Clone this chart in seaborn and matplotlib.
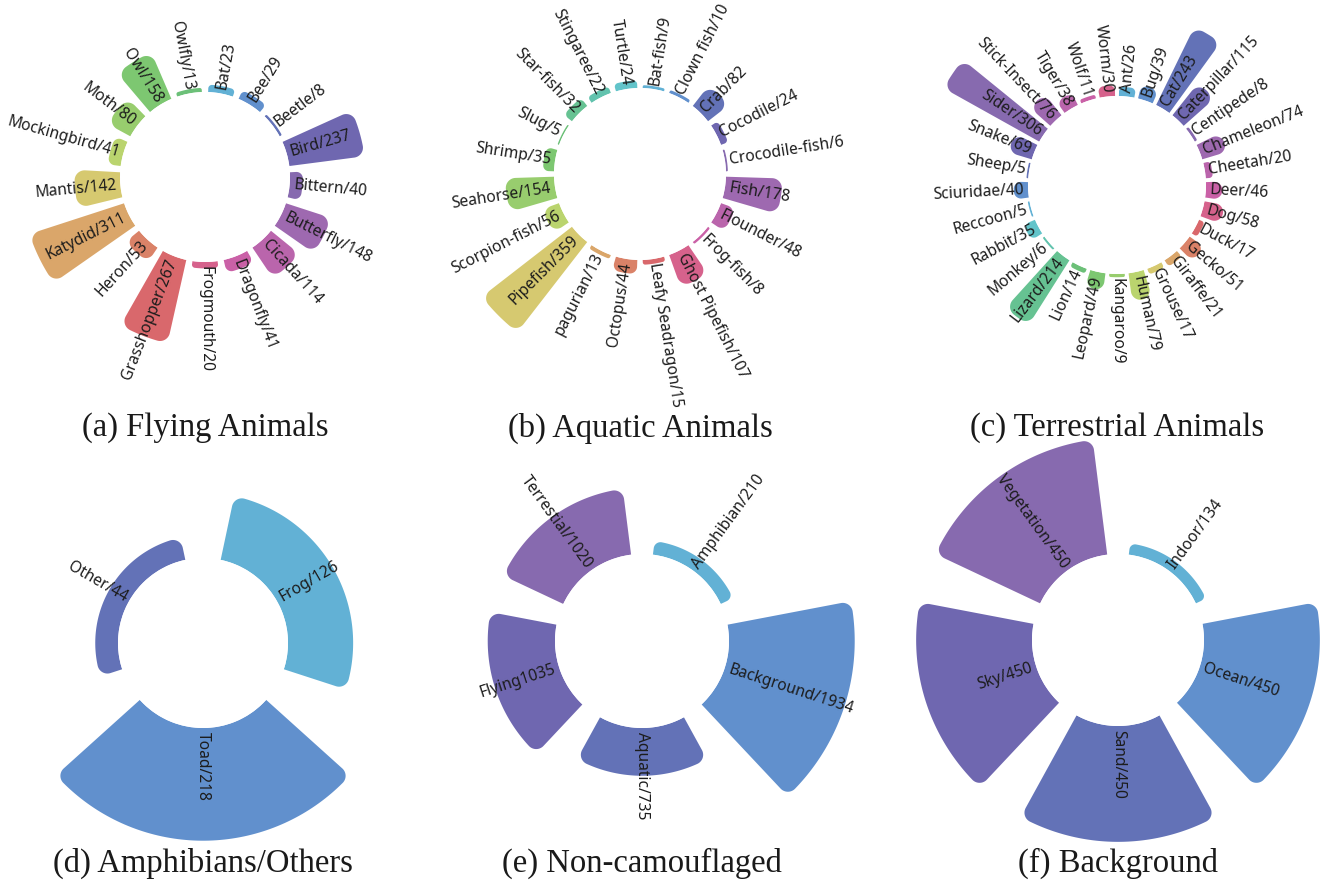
import numpy as np
import matplotlib
matplotlib.use("Agg")
import matplotlib.pyplot as plt
import seaborn as sns

sns.set_theme(style="white")
plt.rcParams["font.family"] = ["Noto Sans", "DejaVu Sans"]

# ---- data -------------------------------------------------------------
flying_names = ["Bat", "Bee", "Beetle", "Bird", "Bittern", "Butterfly", "Cicada",
                "Dragonfly", "Frogmouth", "Grasshopper", "Heron", "Katydid",
                "Mantis", "Mockingbird", "Moth", "Owl", "Owlfly"]
flying_counts = [23, 29, 8, 237, 40, 148, 114, 41, 20, 267, 53, 311, 142, 41, 80, 158, 13]

aquatic_names = ["Bat-fish", "Clown fish", "Crab", "Cocodile", "Crocodile-fish", "Fish",
                 "Flounder", "Frog-fish", "Ghost Pipefish", "Leafy Seadragon", "Octopus",
                 "pagurian", "Pipefish", "Scorpion-fish", "Seahorse", "Shrimp", "Slug",
                 "Star-fish", "Stingaree", "Turtle"]
aquatic_counts = [9, 10, 82, 24, 6, 178, 48, 8, 107, 15, 44, 13, 359, 56, 154, 35, 5, 32, 22, 24]

terrestrial_names = ["Ant", "Bug", "Cat", "Caterpillar", "Centipede", "Chameleon", "Cheetah",
                     "Deer", "Dog", "Duck", "Gecko", "Giraffe", "Grouse", "Human", "Kangaroo",
                     "Leopard", "Lion", "Lizard", "Monkey", "Rabbit", "Reccoon", "Sciuridae",
                     "Sheep", "Snake", "Sider", "Stick-Insect", "Tiger", "Wolf", "Worm"]
terrestrial_counts = [26, 39, 243, 115, 8, 74, 20, 46, 58, 17, 51, 21, 17, 79, 9, 49, 14, 214,
                      6, 35, 5, 40, 5, 69, 306, 76, 38, 11, 30]

amphibian_names = ["Frog", "Toad", "Other"]
amphibian_counts = [126, 218, 44]

noncamo_names = ["Amphibian", "Background", "Aquatic", "Flying", "Terrestial"]
noncamo_counts = [210, 1934, 735, 1035, 1020]
noncamo_seps = ["/", "/", "/", "", "/"]

background_names = ["Indoor", "Ocean", "Sand", "Sky", "Vegetation"]
background_counts = [134, 450, 450, 450, 450]

captions = ["(a) Flying Animals", "(b) Aquatic Animals", "(c) Terrestrial Animals",
            "(d) Amphibians/Others", "(e) Non-camouflaged", "(f) Background"]

# cyclic 20-colour palette, indexed by category position
palette = sns.color_palette([
    "#62B1D5", "#6190CD", "#6372B7", "#6F67B0", "#876AAF", "#9E69B0", "#BA65AC",
    "#CA61A7", "#D6628C", "#D9686C", "#DA8268", "#DAA66A", "#D6C970", "#BAD46E",
    "#98CD6E", "#7DC771", "#6CC078", "#66C292", "#62C3AE", "#62C4CA"])

# ---- layout (pixels) --------------------------------------------------
W, H, DPI = 1320, 884, 100
AX_R = 240          # radius of each polar axes in pixels
CORNER = 10         # rounding of the outer bar corners in pixels
LABEL_PAD = 4       # gap between the hole and the label start
panels = [
    dict(names=flying_names, counts=flying_counts, cx=205, cy=177, r0=85, k=0.320, vmin=0, cap_y=428),
    dict(names=aquatic_names, counts=aquatic_counts, cx=640, cy=174, r0=86, k=0.318, vmin=0, cap_y=428),
    dict(names=terrestrial_names, counts=terrestrial_counts, cx=1117, cy=185, r0=89, k=0.358, vmin=0, cap_y=428),
    dict(names=amphibian_names, counts=amphibian_counts, cx=203, cy=643, r0=85, k=0.517, vmin=0, cap_y=863),
    dict(names=noncamo_names, counts=noncamo_counts, seps=noncamo_seps, cx=642, cy=641, r0=87, k=0.065, vmin=0, cap_y=863),
    dict(names=background_names, counts=background_counts, cx=1118, cy=640, r0=86, k=0.331, vmin=100, cap_y=863),
]


def rounded_sector(a1, a2, rin, rout, rc, n=30):
    """Outline of an annular sector with rounded outer corners.
    Angles clockwise from north, radii measured from the centre."""
    h = (a2 - a1) / 2
    rc = min(rc, (rout - rin) / 2, 0.999 * rout * np.sin(h) / (1 + np.sin(h)))
    th = list(np.linspace(a1, a2, n))
    rr = [rin] * n
    if rc <= 1e-9:
        t = np.linspace(a2, a1, n)
        return np.r_[th, t], np.r_[rr, [rout] * n]
    d = np.arcsin(rc / (rout - rc))
    rt = np.sqrt((rout - rc) ** 2 - rc ** 2)

    def fillet(edge, cang, from_edge):
        cx, cy = (rout - rc) * np.sin(cang), (rout - rc) * np.cos(cang)
        pe = (rt * np.sin(edge), rt * np.cos(edge))
        pa = (rout * np.sin(cang), rout * np.cos(cang))
        s, e = (pe, pa) if from_edge else (pa, pe)
        p1 = np.arctan2(s[1] - cy, s[0] - cx)
        p2 = np.arctan2(e[1] - cy, e[0] - cx)
        dp = (p2 - p1 + np.pi) % (2 * np.pi) - np.pi
        ph = p1 + dp * np.linspace(0, 1, n)
        xs, ys = cx + rc * np.cos(ph), cy + rc * np.sin(ph)
        return np.arctan2(xs, ys), np.hypot(xs, ys)

    t2, r2 = fillet(a2, a2 - d, True)
    to = np.linspace(a2 - d, a1 + d, 80)
    t1, r1 = fillet(a1, a1 + d, False)
    return (np.r_[th, t2, to, t1], np.r_[rr, r2, [rout] * len(to), r1])


fig = plt.figure(figsize=(W / DPI, H / DPI), dpi=DPI)
fig.patch.set_facecolor("white")

for p, cap in zip(panels, captions):
    k, vmin = p["k"], p["vmin"]
    rorigin = vmin - p["r0"] / k
    ax = fig.add_axes([(p["cx"] - AX_R) / W, 1 - (p["cy"] + AX_R) / H,
                       2 * AX_R / W, 2 * AX_R / H], projection="polar")
    ax.set_theta_zero_location("N")
    ax.set_theta_direction(-1)
    ax.set_axis_off()

    n = len(p["names"])
    step = 2 * np.pi / n
    seps = p.get("seps", ["/"] * n)
    for i, (name, v, sep) in enumerate(zip(p["names"], p["counts"], seps)):
        centre = (i + 0.5) * step
        a1, a2 = centre - 0.4 * step, centre + 0.4 * step
        th, rho = rounded_sector(a1, a2, vmin - rorigin, v - rorigin, CORNER / k)
        ax.fill(th, rho + rorigin, color=palette[i % len(palette)], lw=0, zorder=2)

        deg = np.degrees(centre)
        if deg <= 180.0001:
            rot, ha = 90 - deg, "left"
        else:
            rot, ha = 270 - deg, "right"
        ax.text(centre, vmin + LABEL_PAD / k, f"{name}{sep}{v}", rotation=rot,
                rotation_mode="anchor", ha=ha, va="center", fontsize=11.2,
                color="#1c1c1c", zorder=3, clip_on=False)

    ax.set_autoscale_on(False)
    ax.set_rorigin(rorigin)
    ax.set_ylim(vmin, rorigin + AX_R / k)

    fig.text(p["cx"] / W, 1 - p["cap_y"] / H, cap, ha="center", va="center",
             fontsize=23.5, family="Liberation Serif", color="#1a1a1a")

fig.savefig("out.png", dpi=DPI, facecolor="white")
